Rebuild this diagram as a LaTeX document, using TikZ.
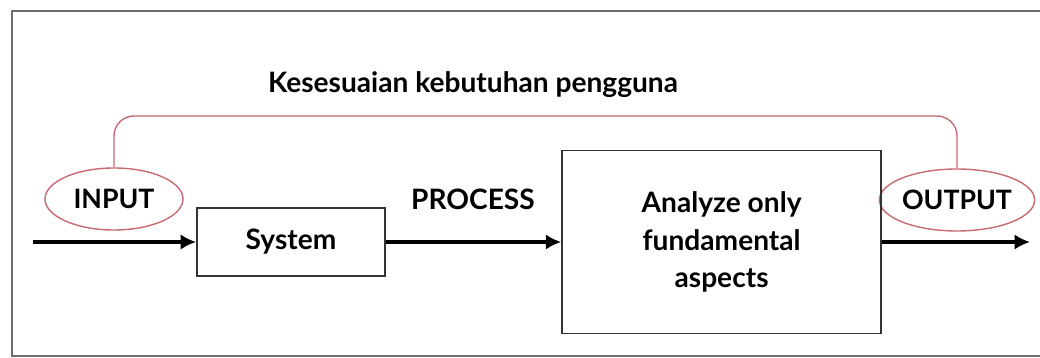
\documentclass[tikz,border=0pt]{standalone}
\usepackage{fontspec}
\setmainfont{Lato}
\usetikzlibrary{shapes.geometric}
\usetikzlibrary{arrows.meta}
\definecolor{fbred}{RGB}{200,105,115}
\definecolor{framegray}{RGB}{110,110,110}
\tikzset{
  ovalbox/.style={draw=fbred, line width=1pt, ellipse, minimum width=3.45cm, minimum height=1.55cm, inner sep=0pt, font=\fontsize{19}{22}\selectfont\bfseries},
  procbox/.style={draw=black!80, line width=1.2pt, rectangle, align=center, inner sep=0pt, font=\fontsize{20}{26.5}\selectfont\bfseries},
  flow/.style={line width=2.6pt, -{Latex[length=11pt,width=11pt]}},
  feedback/.style={draw=fbred, line width=1pt, rounded corners=0.5cm}
}
\begin{document}
\begin{tikzpicture}
    \useasboundingbox (0,0) rectangle (26cm,8.95cm);
		\draw[line width=1.5pt, framegray] (26.5cm,8.675cm) -- (0.3cm,8.675cm) -- (0.3cm,0.05cm) -- (26.5cm,0.05cm);
    \node[ovalbox] (input) at (2.85cm, 3.975cm) {INPUT};
    \node[ovalbox] (output) at (23.925cm, 3.95cm) {OUTPUT};
    \node[procbox, minimum width=4.7cm, minimum height=1.7cm] (system) at (7.275cm, 2.9cm) {System};
    \node[procbox, minimum width=7.975cm, minimum height=4.575cm] (analyze) at (18.04cm, 2.9cm) {Analyze only\\fundamental\\aspects};
    \node[font=\fontsize{20}{22}\selectfont\bfseries] (process) at (11.825cm, 3.975cm) {PROCESS};
    \node[font=\fontsize{20}{22}\selectfont\bfseries] (need) at (11.825cm, 6.825cm) {Kesesuaian kebutuhan pengguna};
    \coordinate (instart) at (0.825cm, 2.9cm);
    \coordinate (outend) at (25.75cm, 2.9cm);
    \coordinate (fbtop) at (12cm, 6.05cm);
		\draw[flow] (instart) -- (system);
		\draw[flow] (system) -- (analyze);
		\draw[flow] (analyze) -- (outend);
		\draw[feedback] (input.north) |- (fbtop) -| (output.north);
\end{tikzpicture}
\end{document}
